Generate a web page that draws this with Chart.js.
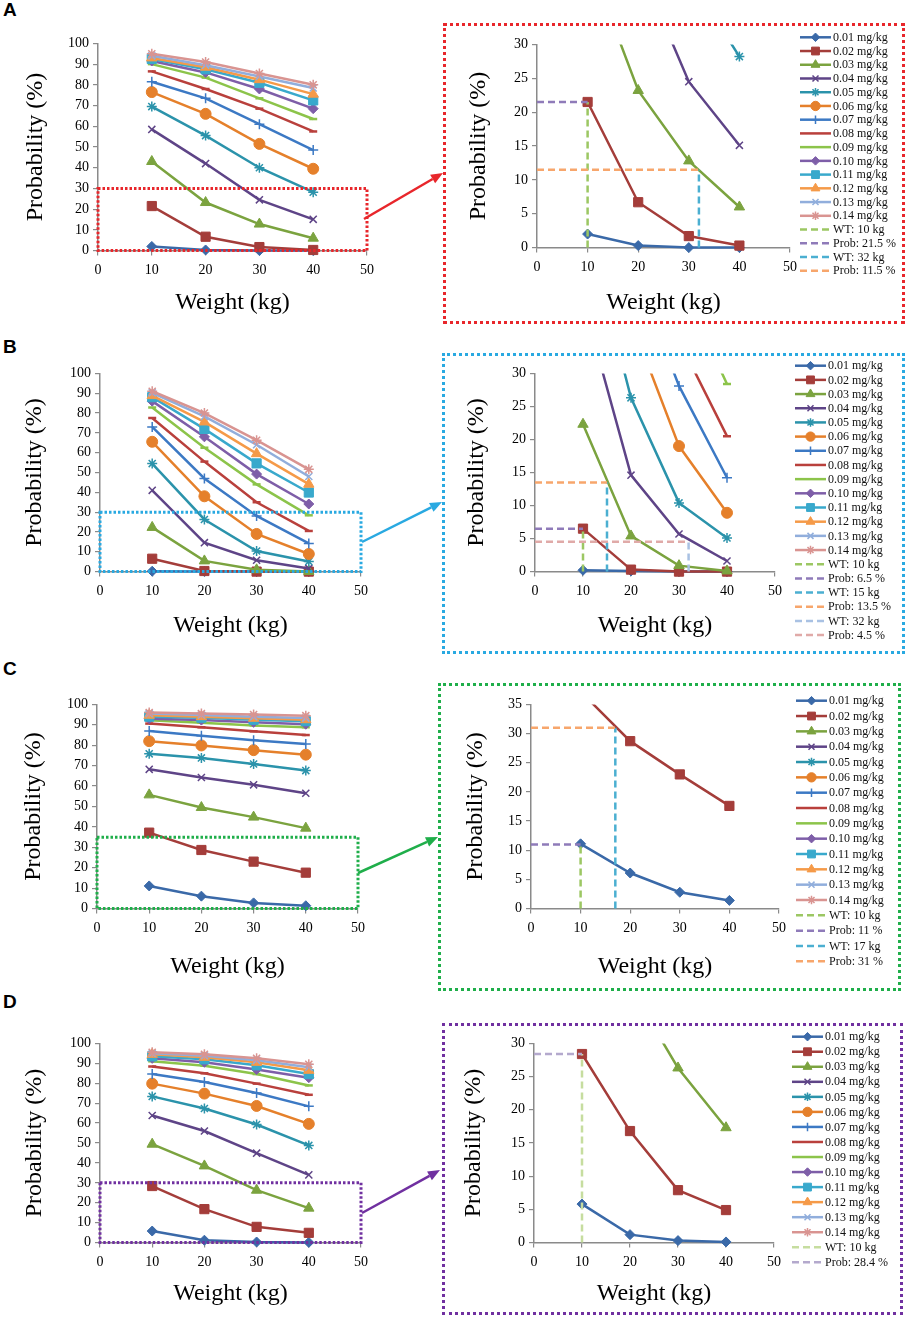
<!DOCTYPE html>
<html>
<head>
<meta charset="utf-8">
<title>Probability by weight and dose</title>
<script src="https://cdn.jsdelivr.net/npm/chart.js@4.4.1/dist/chart.umd.min.js"></script>
<style>
	html, body { margin: 0; padding: 0; background: #fff; }
	#page { position: relative; width: 907px; height: 1319px; overflow: hidden; }
	#page canvas { position: absolute; }
	.letter { position: absolute; left: 3px; font: bold 19px "Liberation Sans", Arial, sans-serif; color: #000; }
	.frame { position: absolute; box-sizing: border-box; border-width: 3px; border-style: dotted; }
	#arrows { position: absolute; left: 0; top: 0; }
</style>
</head>
<body>
<div id="page"></div>
<script>

/*
 * Data
 *
 */
const weights = [ 10, 20, 30, 40 ];

const doses = [
	"0.01 mg/kg", "0.02 mg/kg", "0.03 mg/kg", "0.04 mg/kg", "0.05 mg/kg",
	"0.06 mg/kg", "0.07 mg/kg", "0.08 mg/kg", "0.09 mg/kg", "0.10 mg/kg",
	"0.11 mg/kg", "0.12 mg/kg", "0.13 mg/kg", "0.14 mg/kg"
];

// Probability (%) per dose (row) at each weight.
const probA = [
	[ 2.0, 0.3, 0.0, 0.0 ],
	[ 21.5, 6.7, 1.7, 0.3 ],
	[ 43.0, 23.2, 12.8, 6.0 ],
	[ 58.5, 42.0, 24.5, 15.1 ],
	[ 69.5, 55.5, 40.0, 28.2 ],
	[ 76.5, 66.0, 51.5, 39.5 ],
	[ 81.5, 73.5, 61.0, 48.5 ],
	[ 86.5, 78.0, 68.5, 57.5 ],
	[ 90.0, 83.5, 73.5, 63.5 ],
	[ 91.5, 86.0, 78.0, 68.5 ],
	[ 92.5, 87.5, 81.0, 72.5 ],
	[ 93.0, 88.5, 82.5, 75.5 ],
	[ 94.0, 89.5, 84.0, 78.5 ],
	[ 95.0, 91.0, 85.5, 80.0 ]
];

const probB = [
	[ 0.2, 0.1, 0.0, 0.0 ],
	[ 6.5, 0.3, 0.0, 0.0 ],
	[ 22.3, 5.4, 0.9, 0.1 ],
	[ 41.0, 14.6, 5.7, 1.6 ],
	[ 54.5, 26.3, 10.4, 5.1 ],
	[ 65.5, 38.0, 19.0, 8.9 ],
	[ 73.0, 47.0, 28.1, 14.2 ],
	[ 77.5, 55.5, 35.0, 20.5 ],
	[ 82.8, 62.5, 44.0, 28.4 ],
	[ 86.0, 68.0, 49.2, 34.1 ],
	[ 88.0, 72.0, 54.6, 39.9 ],
	[ 88.8, 75.5, 59.5, 44.1 ],
	[ 90.2, 78.3, 64.0, 48.0 ],
	[ 91.0, 80.0, 66.3, 51.6 ]
];

const probC = [
	[ 11.1, 6.1, 2.8, 1.4 ],
	[ 37.2, 28.7, 23.0, 17.6 ],
	[ 55.7, 49.5, 44.8, 39.4 ],
	[ 68.2, 64.2, 60.6, 56.5 ],
	[ 75.8, 73.8, 70.8, 67.6 ],
	[ 82.0, 79.9, 77.6, 75.4 ],
	[ 87.0, 84.6, 82.5, 80.6 ],
	[ 90.6, 88.8, 86.8, 85.0 ],
	[ 92.2, 91.0, 89.7, 88.8 ],
	[ 93.0, 92.3, 91.2, 90.3 ],
	[ 94.0, 93.5, 92.5, 91.8 ],
	[ 94.7, 94.0, 93.2, 92.5 ],
	[ 95.5, 94.8, 94.0, 93.3 ],
	[ 96.0, 95.5, 95.0, 94.5 ]
];

const probD = [
	[ 5.8, 1.2, 0.3, 0.1 ],
	[ 28.4, 16.8, 7.9, 4.9 ],
	[ 49.4, 38.5, 26.3, 17.3 ],
	[ 63.8, 56.0, 44.9, 34.0 ],
	[ 73.4, 67.3, 59.3, 48.8 ],
	[ 79.8, 74.8, 68.6, 59.6 ],
	[ 84.6, 80.6, 75.1, 68.4 ],
	[ 88.4, 85.0, 79.8, 74.2 ],
	[ 91.0, 88.8, 84.6, 78.9 ],
	[ 92.5, 90.5, 86.9, 82.8 ],
	[ 93.5, 92.0, 89.0, 84.6 ],
	[ 94.5, 93.0, 90.5, 86.5 ],
	[ 95.0, 93.8, 91.5, 88.0 ],
	[ 95.5, 94.5, 92.5, 89.5 ]
];

// Reading lines on each zoomed plot: [ weight (kg), probability (%) ].
const refA = [ [ 10, 21.5 ], [ 32, 11.5 ] ];
const refB = [ [ 10, 6.5 ], [ 15, 13.5 ], [ 32, 4.5 ] ];
const refC = [ [ 10, 11 ], [ 17, 31 ] ];
const refD = [ [ 10, 28.4 ] ];

/*
 * Styles
 *
 */
const serif = "'Liberation Serif', 'Times New Roman', serif";
const axisGrey = "#8a8a8a";

const doseColors = [
	"#3a69a8", "#a43d3a", "#7ba33f", "#5e4487", "#2b93ab", "#e5802b", "#3c79c4",
	"#b9403c", "#8cc44a", "#7e5ea8", "#39a9cc", "#f59a48", "#91aedc", "#d99491"
];

const doseMarkers = [
	"rectRot", "rect", "triangle", "crossRot", "star", "circle", "cross",
	"line", "line", "rectRot", "rect", "triangle", "crossRot", "star"
];

const markerRadius = { rectRot: 5, rect: 6.5, triangle: 6, crossRot: 5, star: 5, circle: 5.5, cross: 5, line: 4 };

/*
 * Panel layout (page pixels).
 *
 */
const panels = [
	{
		letter: "A", letterTop: -1, prob: probA, refs: refA, yZoom: 30, color: "#e8262b",
		refColors: [ [ "#9cc763", "#8f7bb9" ], [ "#4bafd1", "#f7a66c" ] ],
		main: { l: 98, r: 367, t: 43, b: 251, tx: 63, ty: 52 },
		zoom: { l: 537, r: 790, t: 44, b: 248, tx: 59, ty: 55, lx: 800, ly: 37.3, step: 13.73 },
		frame: [ 443, 23, 905, 324 ],
		arrow: [ 364, 219, 443, 173 ]
	},
	{
		letter: "B", letterTop: 336, prob: probB, refs: refB, yZoom: 30, color: "#29a9e1",
		refColors: [ [ "#9cc763", "#8f7bb9" ], [ "#4bafd1", "#f7a66c" ], [ "#a9c1e3", "#e0aaa8" ] ],
		main: { l: 100, r: 361, t: 373, b: 572, tx: 66, ty: 54 },
		zoom: { l: 535, r: 775, t: 373, b: 572, tx: 59, ty: 54, lx: 795, ly: 365.7, step: 14.18 },
		frame: [ 442, 353, 905, 654 ],
		arrow: [ 362, 542, 442, 502 ]
	},
	{
		letter: "C", letterTop: 658, prob: probC, refs: refC, yZoom: 35, color: "#1fae4a",
		refColors: [ [ "#9cc763", "#8f7bb9" ], [ "#4bafd1", "#f7a66c" ] ],
		main: { l: 97, r: 358, t: 704, b: 909, tx: 64, ty: 58 },
		zoom: { l: 531, r: 779, t: 704, b: 909, tx: 56, ty: 58, lx: 796, ly: 700.7, step: 15.33 },
		frame: [ 438, 683, 901, 991 ],
		arrow: [ 358, 873, 438, 837 ]
	},
	{
		letter: "D", letterTop: 991, prob: probD, refs: refD, yZoom: 30, color: "#7030a0",
		refColors: [ [ "#c6dd9f", "#b4a9cd" ] ],
		main: { l: 100, r: 361, t: 1043, b: 1243, tx: 66, ty: 51 },
		zoom: { l: 534, r: 774, t: 1043, b: 1243, tx: 61, ty: 51, lx: 792, ly: 1036.7, step: 15.04 },
		frame: [ 442, 1023, 903, 1315 ],
		arrow: [ 362, 1213, 440, 1170 ]
	}
];

/*
 * Legend drawn like a spreadsheet legend: line sample with its marker.
 *
 */
const doseLegend = {
	id: "doseLegend",
	afterDraw: function( chart, args, opts )
	{
		if( !opts.show ) return;
		const ctx = chart.ctx;
		ctx.save();
		chart.data.datasets.forEach( ( ds, i ) =>
		{
			const y = opts.y + i * opts.step;
			ctx.strokeStyle = ds.borderColor;
			ctx.lineWidth = ds.borderWidth;
			ctx.setLineDash( ds.borderDash || [] );
			ctx.beginPath();
			ctx.moveTo( opts.x, y );
			ctx.lineTo( opts.x + 31, y );
			ctx.stroke();
			ctx.setLineDash( [] );
			if( ds.pointRadius > 0 && ds.pointStyle !== "line" )
			{
				ctx.fillStyle = ds.backgroundColor;
				ctx.lineWidth = ds.pointBorderWidth;
				Chart.helpers.drawPoint( ctx, {
					pointStyle: ds.pointStyle,
					radius: ds.pointRadius * 0.85,
					borderWidth: ds.pointBorderWidth,
					rotation: 0
				}, opts.x + 15.5, y );
			}
			ctx.fillStyle = "#111";
			ctx.font = "12px " + serif;
			ctx.textAlign = "left";
			ctx.textBaseline = "middle";
			ctx.fillText( ds.label, opts.x + 33, y + 0.5 );
		});
		ctx.restore();
	}
};

/*
 * Dotted box marking the zoomed region on the full plot.
 *
 */
const zoomFrame = {
	id: "zoomFrame",
	afterDraw: function( chart, args, opts )
	{
		if( !opts.show ) return;
		const { x, y } = chart.scales;
		const l = x.getPixelForValue( 0 ), r = x.getPixelForValue( 50 );
		const t = y.getPixelForValue( opts.top ), b = y.getPixelForValue( 0 );
		const ctx = chart.ctx;
		ctx.save();
		ctx.strokeStyle = opts.color;
		ctx.lineWidth = 3;
		ctx.setLineDash( [ 2.5, 2 ] );
		ctx.strokeRect( l, t, r - l, b - t );
		ctx.restore();
	}
};

const page = document.getElementById( "page" );

/*
 * Build one chart.
 *
 */
function addChart( panel, geo, zoomed )
{
	const x0 = Math.round( geo.l - geo.tx - 18.4 );
	const y0 = geo.t - 12;
	const right = zoomed ? 899 : geo.r + 16;
	const yW = geo.l - x0;
	const xH = geo.ty + 18.4;
	const cw = right - x0;
	const ch = Math.round( geo.b + xH - y0 );

	const canvas = document.createElement( "canvas" );
	canvas.width = cw;
	canvas.height = ch;
	canvas.style.left = x0 + "px";
	canvas.style.top = y0 + "px";
	canvas.style.width = cw + "px";
	canvas.style.height = ch + "px";
	page.appendChild( canvas );

	const datasets = doses.map( ( label, i ) => ({
		label: label,
		data: weights.map( ( w, j ) => ({ x: w, y: panel.prob[i][j] }) ),
		borderColor: doseColors[i],
		backgroundColor: doseColors[i],
		borderWidth: 2.5,
		pointStyle: doseMarkers[i],
		pointRadius: markerRadius[doseMarkers[i]],
		pointBorderWidth: /cross|star|line/.test( doseMarkers[i] ) ? ( doseMarkers[i] === "line" ? 2.5 : 1.5 ) : 1,
		pointBorderColor: doseColors[i],
		tension: 0,
		order: -i,
		clip: zoomed ? { left: 10, top: 0, right: 10, bottom: 10 } : false
	}));

	if( zoomed )
	{
		panel.refs.forEach( ( ref, k ) =>
		{
			const wt = ref[0], pr = ref[1];
			datasets.push({
				label: "WT: " + wt + " kg",
				data: [ { x: wt, y: 0 }, { x: wt, y: pr } ],
				borderColor: panel.refColors[k][0],
				backgroundColor: panel.refColors[k][0],
				borderWidth: 2.5,
				borderDash: [ 7, 4 ],
				pointRadius: 0,
				order: -20 - 2 * k,
				clip: false
			});
			datasets.push({
				label: "Prob: " + pr + " %",
				data: [ { x: 0, y: pr }, { x: wt, y: pr } ],
				borderColor: panel.refColors[k][1],
				backgroundColor: panel.refColors[k][1],
				borderWidth: 2.5,
				borderDash: [ 7, 4 ],
				pointRadius: 0,
				order: -21 - 2 * k,
				clip: false
			});
		});
	}

	const axis = ( text ) => ({
		grid: { drawOnChartArea: false, drawTicks: true, tickLength: 5, color: axisGrey, lineWidth: 1.2 },
		border: { display: true, color: axisGrey, width: 1.5 },
		title: { display: true, text: text, color: "#000", font: { family: serif, size: 24 }, padding: { top: 4, bottom: 4 } }
	});

	new Chart( canvas, {
		type: "line",
		data: { datasets: datasets },
		options: {
			responsive: false,
			animation: false,
			events: [],
			layout: { padding: { top: 12, left: 0, bottom: 0, right: right - geo.r } },
			plugins: {
				legend: { display: false },
				tooltip: { enabled: false },
				doseLegend: { show: zoomed, x: ( geo.lx || 0 ) - x0, y: ( geo.ly || 0 ) - y0, step: geo.step },
				zoomFrame: { show: !zoomed, color: panel.color, top: panel.yZoom }
			},
			scales: {
				x: Object.assign( axis( "Weight (kg)" ), {
					type: "linear",
					min: 0,
					max: 50,
					ticks: { stepSize: 10, color: "#000", font: { family: serif, size: 14 }, padding: 6, maxRotation: 0 },
					afterFit: s => { s.height = xH; }
				}),
				y: Object.assign( axis( "Probability (%)" ), {
					type: "linear",
					min: 0,
					max: zoomed ? panel.yZoom : 100,
					ticks: { stepSize: zoomed ? 5 : 10, color: "#000", font: { family: serif, size: 14 }, padding: 4 },
					afterFit: s => { s.width = yW; }
				})
			}
		},
		plugins: [ doseLegend, zoomFrame ]
	});
}

/*
 * Frames, letters and arrows.
 *
 */
const svgNS = "http://www.w3.org/2000/svg";
const svg = document.createElementNS( svgNS, "svg" );
svg.setAttribute( "id", "arrows" );
svg.setAttribute( "width", 907 );
svg.setAttribute( "height", 1319 );

panels.forEach( panel =>
{
	const letter = document.createElement( "div" );
	letter.className = "letter";
	letter.style.top = panel.letterTop + "px";
	letter.textContent = panel.letter;
	page.appendChild( letter );

	const f = panel.frame;
	const frame = document.createElement( "div" );
	frame.className = "frame";
	frame.style.left = f[0] + "px";
	frame.style.top = f[1] + "px";
	frame.style.width = ( f[2] - f[0] ) + "px";
	frame.style.height = ( f[3] - f[1] ) + "px";
	frame.style.borderColor = panel.color;
	page.appendChild( frame );

	addChart( panel, panel.main, false );
	addChart( panel, panel.zoom, true );

	// Arrow from the marked region to the zoomed plot.
	const [ x1, y1, x2, y2 ] = panel.arrow;
	const ang = Math.atan2( y2 - y1, x2 - x1 );
	const len = 12, half = 5;
	const bx = x2 - len * Math.cos( ang ), by = y2 - len * Math.sin( ang );
	const line = document.createElementNS( svgNS, "line" );
	line.setAttribute( "x1", x1 );
	line.setAttribute( "y1", y1 );
	line.setAttribute( "x2", bx );
	line.setAttribute( "y2", by );
	line.setAttribute( "stroke", panel.color );
	line.setAttribute( "stroke-width", 2.5 );
	svg.appendChild( line );
	const head = document.createElementNS( svgNS, "polygon" );
	const px = half * Math.sin( ang ), py = half * Math.cos( ang );
	head.setAttribute( "points", [ x2 + "," + y2, ( bx + px ) + "," + ( by - py ), ( bx - px ) + "," + ( by + py ) ].join( " " ) );
	head.setAttribute( "fill", panel.color );
	svg.appendChild( head );
});

page.appendChild( svg );

</script>
</body>
</html>
